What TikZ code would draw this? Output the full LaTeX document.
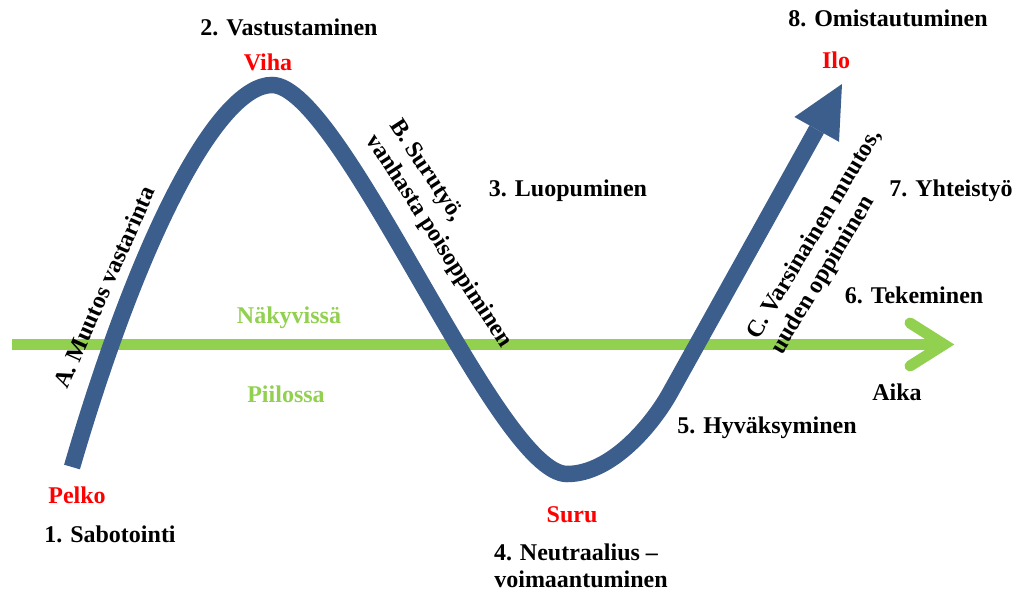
\documentclass[tikz,border=0pt]{standalone}
\usepackage{fontspec}
\setmainfont{Liberation Serif}
\definecolor{waveblue}{HTML}{3B5E8C}
\definecolor{timegreen}{HTML}{92D050}
\definecolor{feelred}{HTML}{FF0000}
\newcommand{\lblfont}{\fontsize{24}{28}\selectfont\bfseries}

\begin{document}
\begin{tikzpicture}[x=1pt,y=-1pt,
  lbl/.style={font=\lblfont, inner sep=0pt, anchor=base},
  stage/.style={lbl, text=black},
  feeling/.style={lbl, text=feelred},
  layer/.style={lbl, text=timegreen},
  phase/.style={font=\lblfont, inner sep=0pt, align=left, text=black},
  timeline/.style={draw=timegreen, line width=11pt},
  wave/.style={draw=waveblue, line width=16.5pt}]
\useasboundingbox[fill=white] (0,0) rectangle (1020,597);

% time axis with open chevron head
\coordinate (axis-start) at (12,344.5);
\coordinate (axis-end) at (944,344.5);
\coordinate (chev-up) at (910,323);
\coordinate (chev-down) at (910,366);
\draw[timeline] (axis-start) -- (axis-end);
\draw[timeline, line cap=round, line join=miter] (chev-up) -- (axis-end) -- (chev-down);

% change curve: fear -> anger -> sorrow -> joy
\coordinate (w-start) at (72,467);
\coordinate (w-peak) at (272,85);
\coordinate (w-trough) at (567,474);
\coordinate (w-rise) at (670,393);
\coordinate (head-base) at (816.7,129.4);
\coordinate (w-tip) at (842,84);
\coordinate (head-l) at (794.4,117);
\coordinate (head-r) at (839,141.8);
\draw[wave] (w-start) .. controls (142,227) and (220,85) .. (w-peak)
  .. controls (342,85) and (497,474) .. (w-trough)
  .. controls (612,474) and (653,423.5) .. (w-rise) -- (head-base);
\fill[waveblue] (w-tip) -- (head-l) -- (head-r) -- cycle;

% visible / hidden layers
\node[layer] (nakyvissa) at (289,323) {Näkyvissä};
\node[layer] (piilossa) at (286,402) {Piilossa};
\node[stage] (aika) at (897,400) {Aika};

% feelings
\node[feeling] (pelko) at (77,503) {Pelko};
\node[feeling] (viha) at (268,70) {Viha};
\node[feeling] (suru) at (572,522) {Suru};
\node[feeling] (ilo) at (836,68) {Ilo};

% stages
\node[stage] (s1) at (110,542) {1. Sabotointi};
\node[stage] (s2) at (289,35) {2. Vastustaminen};
\node[stage] (s3) at (568,196) {3. Luopuminen};
\node[stage] (s4) at (576,560) {4. Neutraalius –};
\node[stage] (s4b) at (581,587) {voimaantuminen};
\node[stage] (s5) at (767,433) {5. Hyväksyminen};
\node[stage] (s6) at (914,303) {6. Tekeminen};
\node[stage] (s7) at (951,196) {7. Yhteistyö};
\node[stage] (s8) at (888,27) {8. Omistautuminen};

% phases along the curve
\node[phase, rotate=66] (pa) at (104,287) {A. Muutos vastarinta};
\node[phase, rotate=-57] (pb) at (450,234) {B. Surutyö,\\vanhasta poisoppiminen};
\node[phase, rotate=59] (pc) at (827,242) {C. Varsinainen muutos,\\uuden oppiminen};
\end{tikzpicture}
\end{document}
